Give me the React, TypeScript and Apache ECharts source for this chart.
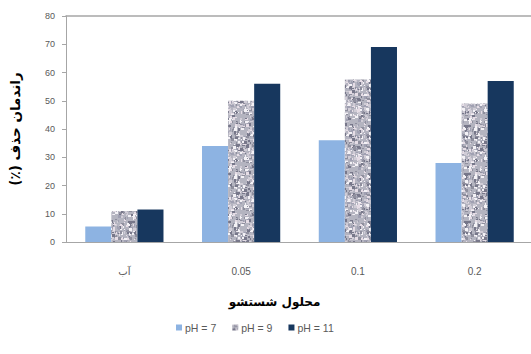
import React, { useEffect, useRef } from "react";
import * as echarts from "echarts";

const categories = ["آب", "0.05", "0.1", "0.2"];
const seriesNames = ["pH = 7", "pH = 9", "pH = 11"];
const ph7 = [5.5, 34, 36, 28];
const ph9 = [11, 50, 57.5, 49];
const ph11 = [11.5, 56, 69, 57];

// Right-to-left embedding, so the parenthesised unit stays at the end of the
// Persian axis title inside the SVG's left-to-right text run.
const rtl = (s: string) => "\u202B" + s + "\u202C";

// Speckled grey texture for the middle series, built from a fixed LCG so it
// renders identically each time.
function speckleTexture(): string {
  const size = 48;
  const c = document.createElement("canvas");
  c.width = size;
  c.height = size;
  const ctx = c.getContext("2d");
  if (!ctx) return "";
  ctx.fillStyle = "#b4b4c0";
  ctx.fillRect(0, 0, size, size);
  let s = 12345;
  const next = () => {
    s = (s * 1103515245 + 12345) & 0x7fffffff;
    return s / 0x7fffffff;
  };
  const palette = ["#f4f2f6", "#e6dde6", "#8f8f9e", "#77778a", "#d0ccd6", "#a0a0b2"];
  for (let i = 0; i < 460; i++) {
    const x = Math.floor(next() * size);
    const y = Math.floor(next() * size);
    const w = 1 + Math.floor(next() * 3);
    const h = 1 + Math.floor(next() * 3);
    ctx.fillStyle = palette[Math.floor(next() * palette.length)];
    ctx.fillRect(x, y, w, h);
  }
  return c.toDataURL();
}

export default function App() {
  const ref = useRef<HTMLDivElement>(null);

  useEffect(() => {
    if (!ref.current) return;
    const chart = echarts.init(ref.current, undefined, { renderer: "svg" });
    const texture = speckleTexture();
    const greyText = "#595959";
    const axisGrey = "#a6a6a6";
    const persianFont = "'DejaVu Sans', sans-serif";

    chart.setOption({
      animation: false,
      backgroundColor: "#ffffff",
      grid: {
        left: 66,
        top: 16,
        width: 467,
        height: 226,
        outerBoundsMode: "none",
        containLabel: false,
      },
      legend: {
        data: seriesNames,
        top: 317,
        left: 171,
        itemWidth: 6,
        itemHeight: 6,
        itemGap: 16,
        icon: "rect",
        textStyle: {
          fontSize: 10.5,
          color: greyText,
          fontFamily: "Liberation Sans, sans-serif",
          padding: [0, 0, 0, -2],
        },
      },
      xAxis: [
        {
          type: "category",
          data: categories,
          name: "محلول شستشو",
          nameLocation: "middle",
          nameGap: 54,
          nameTextStyle: {
            fontFamily: persianFont,
            fontWeight: "bold",
            fontSize: 12,
            color: "#000000",
            padding: [0, 50, 0, 0],
          },
          axisLine: { lineStyle: { color: axisGrey } },
          axisTick: { show: false },
          axisLabel: {
            fontSize: 10,
            color: greyText,
            margin: 24,
            fontFamily: "Liberation Sans, 'DejaVu Sans', sans-serif",
          },
        },
        {
          // top frame line of the plot area
          type: "category",
          data: categories,
          position: "top",
          axisLine: { show: true, lineStyle: { color: axisGrey, width: 1.5 } },
          axisTick: { show: false },
          axisLabel: { show: false },
        },
      ],
      yAxis: {
        type: "value",
        min: 0,
        max: 80,
        interval: 10,
        name: rtl("راندمان حذف (٪)"),
        nameLocation: "middle",
        nameRotate: 90,
        nameGap: 44,
        nameTextStyle: {
          fontFamily: persianFont,
          fontWeight: "bold",
          fontSize: 13.5,
          color: "#000000",
        },
        axisLine: { show: true, lineStyle: { color: axisGrey } },
        axisTick: { show: true, length: 4, lineStyle: { color: axisGrey } },
        splitLine: { show: false },
        axisLabel: {
          fontSize: 9,
          color: greyText,
          margin: 11,
          fontFamily: "Liberation Sans, sans-serif",
        },
      },
      series: [
        {
          name: seriesNames[0],
          type: "bar",
          data: ph7,
          barGap: "0%",
          barCategoryGap: "33%",
          itemStyle: { color: "#8db3e2" },
        },
        {
          name: seriesNames[1],
          type: "bar",
          data: ph9,
          itemStyle: {
            color: texture ? { image: texture, repeat: "repeat" } : "#b4b4c0",
          },
        },
        {
          name: seriesNames[2],
          type: "bar",
          data: ph11,
          itemStyle: { color: "#17375e" },
        },
      ],
    });

    return () => chart.dispose();
  }, []);

  return (
    <div
      ref={ref}
      style={{ position: "fixed", left: 0, top: 0, width: 531, height: 354 }}
    />
  );
}
